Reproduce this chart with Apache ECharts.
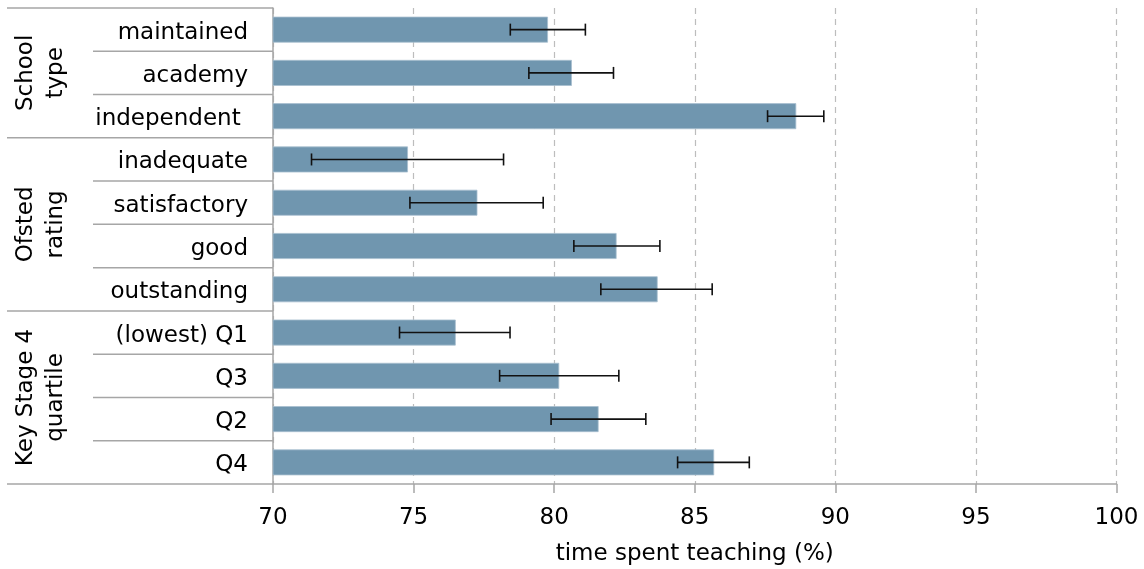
<!DOCTYPE html>
<html>
<head>
<meta charset="utf-8">
<script src="https://cdn.jsdelivr.net/npm/echarts@6/dist/echarts.min.js"></script>
<style>
  html, body { margin: 0; padding: 0; background: #fff; }
  #chart { width: 1144px; height: 569px; }
</style>
</head>
<body>
<div id="chart"></div>
<script>
const categories = ['maintained', 'academy', 'independent ', 'inadequate', 'satisfactory', 'good', 'outstanding', '(lowest) Q1', 'Q3', 'Q2', 'Q4'];
const values = [79.78, 80.63, 88.61, 74.80, 77.27, 82.22, 83.68, 76.50, 80.18, 81.58, 85.69];
const lows   = [78.44, 79.10, 87.59, 71.37, 74.87, 80.70, 81.66, 74.50, 78.06, 79.89, 84.39];
const highs  = [81.11, 82.11, 89.59, 78.20, 79.61, 83.76, 85.62, 78.43, 82.30, 83.26, 86.94];
const groupNames = ['School\ntype', 'Ofsted\nrating', 'Key Stage 4\nquartile'];
const groupSizes = [3, 4, 4];
const xTicks = [70, 75, 80, 85, 90, 95, 100];

const FONT = '"DejaVu Sans", sans-serif';
const FS = 23;
const LINE = '#a6a6a6';

// separators data: [70, catIndex, isGroupStart, isLast]
const groupStarts = [];
const groupRanges = [];
let acc = 0;
groupSizes.forEach((s, gi) => { groupStarts.push(acc); groupRanges.push([70, acc, acc + s - 1, gi]); acc += s; });
const sepData = categories.map((c, i) => [70, i, groupStarts.includes(i) ? 1 : 0, i === categories.length - 1 ? 1 : 0]);
const errData = categories.map((c, i) => [i, lows[i], highs[i]]);

const chart = echarts.init(document.getElementById('chart'), null, { renderer: 'canvas' });
chart.setOption({
  animation: false,
  textStyle: { fontFamily: FONT },
  grid: { left: 273, right: 27.5, top: 8, bottom: 85, containLabel: false, outerBoundsMode: 'none' },
  xAxis: {
    type: 'value', min: xTicks[0], max: xTicks[xTicks.length - 1], interval: 5,
    name: 'time spent teaching (%)', nameLocation: 'middle', nameGap: 59,
    nameTextStyle: { fontSize: FS, color: '#000', fontFamily: FONT },
    axisLine: { show: true, lineStyle: { color: LINE, width: 1.5 } },
    axisTick: { show: true, length: 9, lineStyle: { color: LINE, width: 1.5 } },
    axisLabel: { fontSize: FS, color: '#000', margin: 23, fontFamily: FONT },
    splitLine: { show: true, lineStyle: { color: '#bdbdbd', type: [6, 5], width: 1.2 } }
  },
  yAxis: {
    type: 'category', data: categories, inverse: true,
    axisLine: { show: true, lineStyle: { color: LINE, width: 1.5 } },
    axisTick: { show: false },
    axisLabel: {
      fontSize: FS, color: '#000', margin: 25, fontFamily: FONT,
      formatter: function (v) { return '{c|' + v + '}'; },
      rich: { c: { fontSize: FS, color: '#000', fontFamily: FONT, padding: [6, 0, 0, 0] } }
    },
    splitLine: { show: false }
  },
  series: [
    {
      type: 'bar', data: values, barCategoryGap: '40%',
      itemStyle: { color: '#7096af', borderColor: '#a8bfcf', borderWidth: 0.8 }
    },
    {
      type: 'custom', clip: false, data: errData, encode: { y: 0, x: [1, 2] }, z: 5,
      renderItem: function (params, api) {
        const idx = api.value(0);
        const p1 = api.coord([api.value(1), idx]);
        const p2 = api.coord([api.value(2), idx]);
        const h = 6;
        const st = { stroke: '#111', lineWidth: 1.6 };
        return {
          type: 'group', children: [
            { type: 'line', shape: { x1: p1[0], y1: p1[1], x2: p2[0], y2: p2[1] }, style: st },
            { type: 'line', shape: { x1: p1[0], y1: p1[1] - h, x2: p1[0], y2: p1[1] + h }, style: st },
            { type: 'line', shape: { x1: p2[0], y1: p2[1] - h, x2: p2[0], y2: p2[1] + h }, style: st }
          ]
        };
      }
    },
    {
      type: 'custom', clip: false, data: sepData, silent: true, z: 1,
      renderItem: function (params, api) {
        const idx = api.value(1);
        const c = api.coord([api.value(0), idx]);
        const band = api.size([0, 1])[1];
        const yTop = c[1] - band / 2;
        const st = { stroke: LINE, lineWidth: 1.5 };
        const children = [
          { type: 'line', shape: { x1: api.value(2) ? 7 : 93, y1: yTop, x2: c[0], y2: yTop }, style: st }
        ];
        if (api.value(3)) {
          const yBot = c[1] + band / 2;
          children.push({ type: 'line', shape: { x1: 7, y1: yBot, x2: c[0], y2: yBot }, style: st });
        }
        return { type: 'group', children: children };
      }
    },
    {
      type: 'custom', clip: false, data: groupRanges, silent: true, z: 1,
      renderItem: function (params, api) {
        const band = api.size([0, 1])[1];
        const a = api.coord([api.value(0), api.value(1)]);
        const b = api.coord([api.value(0), api.value(2)]);
        const yMid = ((a[1] - band / 2) + (b[1] + band / 2)) / 2;
        return {
          type: 'text', x: 41, y: yMid, rotation: Math.PI / 2,
          style: {
            text: groupNames[api.value(3)], fill: '#000', fontSize: FS, fontFamily: FONT,
            align: 'center', verticalAlign: 'middle', lineHeight: 30
          }
        };
      }
    }
  ]
});
</script>
</body>
</html>
